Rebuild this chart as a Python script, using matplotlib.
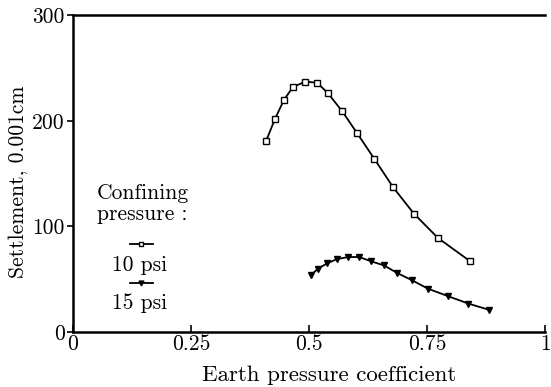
import matplotlib
matplotlib.use('Agg')
import matplotlib.pyplot as plt
from matplotlib.lines import Line2D

plt.rcParams['font.family'] = ['cmr10', 'DejaVu Serif']
plt.rcParams['axes.formatter.use_mathtext'] = True

# Earth pressure coefficient vs settlement (0.001 cm)
k_10psi = [0.409, 0.428, 0.447, 0.466, 0.492, 0.517, 0.540, 0.570,
           0.602, 0.638, 0.678, 0.722, 0.773, 0.841]
s_10psi = [181, 202, 220, 232, 237, 236, 226, 209, 188, 164, 137, 112, 89, 67]

k_15psi = [0.504, 0.519, 0.538, 0.559, 0.583, 0.606, 0.631, 0.659,
           0.686, 0.718, 0.752, 0.794, 0.837, 0.881]
s_15psi = [54, 60, 65, 69, 71, 71, 67, 63, 56, 49, 41, 34, 27, 21]

x_ticks = [0, 0.25, 0.5, 0.75, 1]
x_labels = ['0', '0.25', '0.5', '0.75', '1']
y_ticks = [0, 100, 200, 300]
y_labels = ['0', '100', '200', '300']

FS = 15.5

fig = plt.figure(figsize=(5.51, 3.87), dpi=100)
ax = fig.add_axes([0.1325, 0.142, 0.857, 0.819])

ax.plot(k_10psi, s_10psi, '-', color='black', lw=1.3, marker='s', ms=4,
        mfc='white', mec='black', mew=1.0)
ax.plot(k_15psi, s_15psi, '-', color='black', lw=1.3, marker='v', ms=4,
        mfc='black', mec='black')

ax.set_xlim(0, 1)
ax.set_ylim(0, 300)
ax.set_xticks(x_ticks)
ax.set_xticklabels(x_labels)
ax.set_yticks(y_ticks)
ax.set_yticklabels(y_labels)
ax.tick_params(axis='x', direction='in', length=5, width=1.2, labelsize=FS, pad=2)
ax.tick_params(axis='y', direction='out', length=4, width=1.2, labelsize=FS, pad=2)

ax.spines['right'].set_visible(False)
for side in ('left', 'bottom', 'top'):
    ax.spines[side].set_linewidth(1.8)

ax.set_xlabel('Earth pressure coefficient', fontsize=16.5)
ax.xaxis.set_label_coords(0.542, -0.104)
ax.set_ylabel('Settlement, 0.001cm', fontsize=FS)
ax.yaxis.set_label_coords(-0.096, 0.473)

# hand-made legend: handle above its label
ax.text(0.051, 0.405, 'Confining\npressure :', transform=ax.transAxes,
        fontsize=FS, ha='left', va='center', linespacing=1.15)
ax.add_line(Line2D([0.121, 0.145, 0.169], [0.278, 0.278, 0.278],
                   transform=ax.transAxes, color='black', lw=1.3,
                   marker='s', ms=3.5, mfc='white', mec='black',
                   markevery=[1]))
ax.text(0.14, 0.211, '10 psi', transform=ax.transAxes, fontsize=FS,
        ha='center', va='center')
ax.add_line(Line2D([0.121, 0.145, 0.169], [0.155, 0.155, 0.155],
                   transform=ax.transAxes, color='black', lw=1.3,
                   marker='v', ms=3.5, mfc='black', mec='black',
                   markevery=[1]))
ax.text(0.14, 0.091, '15 psi', transform=ax.transAxes, fontsize=FS,
        ha='center', va='center')

fig.savefig('out.png', dpi=100)
